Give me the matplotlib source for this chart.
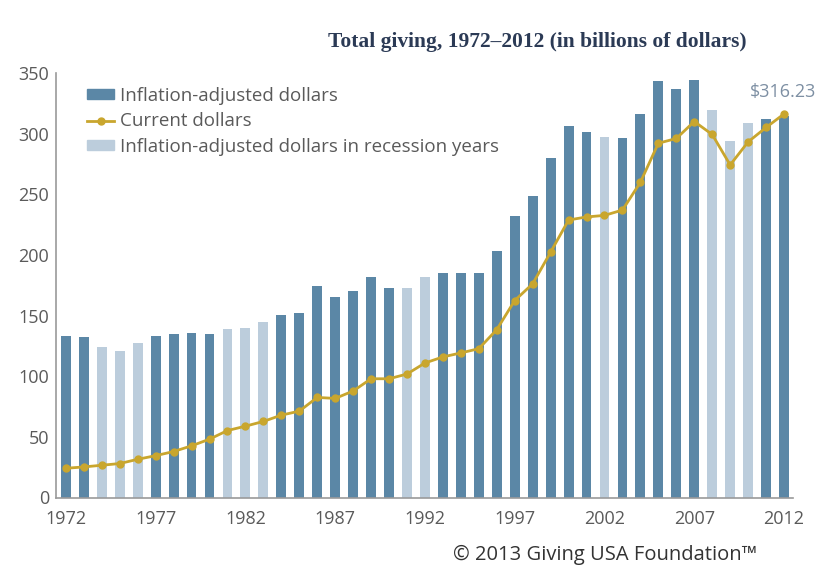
import matplotlib.pyplot as plt
from matplotlib.patches import Patch
from matplotlib.lines import Line2D

years = list(range(1972, 2013))
inflation_adjusted = [133.5, 132, 124, 121, 127.7, 133, 135, 136, 135, 139,
                      140, 145, 150.5, 152, 174, 165.7, 170.6, 181.7, 172.9, 173,
                      181.7, 184.7, 185.5, 184.7, 203, 232.4, 248.3, 280, 306, 301,
                      297, 296.3, 316.4, 343.6, 337, 344.5, 319.4, 293.8, 308.4, 311.7,
                      314.7]
current = [24.1, 25.2, 26.6, 28, 31.5, 34.5, 37.9, 42.6, 48.1, 55.2,
           58.8, 62.7, 67.9, 71.2, 82.5, 81.7, 87.8, 97.9, 97.9, 101.8,
           110.9, 115.9, 119.2, 122.7, 138.4, 162.4, 176.2, 202.3, 228.8, 231.3,
           232.6, 237, 259.9, 292.1, 296, 310, 299.3, 274.2, 293.2, 305.1,
           316.23]
recession_years = [1974, 1975, 1976, 1981, 1982, 1983, 1991, 1992, 2002, 2008, 2009, 2010]
tick_years = [1972, 1977, 1982, 1987, 1992, 1997, 2002, 2007, 2012]
y_ticks = [0, 50, 100, 150, 200, 250, 300, 350]

dark = "#5b87a6"
light = "#bccddc"
gold = "#c9a62e"
grey = "#5a5a5a"

plt.rcParams['font.family'] = ['Open Sans', 'DejaVu Sans']

fig = plt.figure(figsize=(8.18, 5.69), dpi=100)
ax = fig.add_axes([56 / 818, 1 - 497.5 / 569, (793 - 56) / 818, (497.5 - 73) / 569])

colors = [light if y in recession_years else dark for y in years]
ax.bar(years, inflation_adjusted, width=0.55, color=colors, zorder=2)
ax.plot(years, current, color=gold, linewidth=2, marker='o', markersize=5, zorder=3)

ax.set_xlim(1971.45, 2012.5)
ax.set_ylim(0, 350)
ax.set_xticks(tick_years)
ax.set_yticks(y_ticks)
ax.tick_params(length=0, labelsize=13, colors=grey)
ax.tick_params(axis='x', pad=9)
ax.tick_params(axis='y', pad=5)
for s in ['top', 'right']:
    ax.spines[s].set_visible(False)
for s in ['left', 'bottom']:
    ax.spines[s].set_color('#9a9a9a')
    ax.spines[s].set_linewidth(1.2)

handles = [Patch(color=dark), Line2D([0], [0], color=gold, marker='o', linewidth=2, markersize=5),
           Patch(color=light)]
labels = ["Inflation-adjusted dollars", "Current dollars", "Inflation-adjusted dollars in recession years"]
leg = ax.legend(handles, labels, loc='upper left', bbox_to_anchor=(0.032, 0.985), frameon=False,
                fontsize=13.5, handlelength=1.45, handleheight=0.45, handletextpad=0.3, labelspacing=0.4,
                borderaxespad=0)
for t in leg.get_texts():
    t.set_color(grey)

ax.annotate("$316.23", (years[-1], current[-1]), xytext=(-1, 9), textcoords='offset points',
            ha='center', va='bottom', fontsize=13, color='#7d8fa3')

fig.text(537 / 818, 1 - 42 / 569, "Total giving, 1972–2012 (in billions of dollars)", ha='center', va='center',
         fontsize=15.5, fontweight='bold', family='Liberation Serif', color='#2b3a55')
fig.text(605 / 818, 1 - 555 / 569, "© 2013 Giving USA Foundation™", ha='center', va='center',
         fontsize=14.5, color='#333333')

fig.savefig("out.png", dpi=100)
